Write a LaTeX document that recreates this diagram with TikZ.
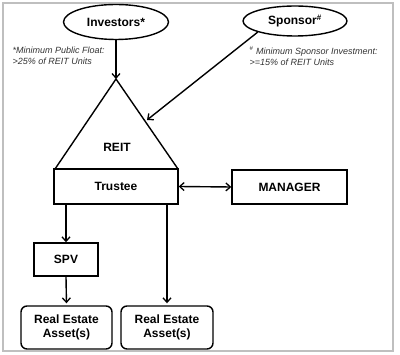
\documentclass[tikz,border=0pt]{standalone}
\usepackage{fontspec}
\setmainfont{Liberation Sans}
\usetikzlibrary{arrows.meta,shapes.geometric}
\begin{document}
\begin{tikzpicture}[x=1pt,y=-1pt,
  line width=1.4pt,
  lbl/.style={font=\bfseries\fontsize{12}{14}\selectfont},
  box/.style={lbl,draw,rectangle,inner sep=0pt},
  rbox/.style={box,rounded corners=6pt,align=center},
  oval/.style={lbl,draw,ellipse,inner sep=0pt},
  note/.style={font=\itshape\fontsize{9}{11}\selectfont,text=black!80,align=left,anchor=north west,inner sep=0pt},
  arr/.style={-{Straight Barb[length=4.5pt,width=8pt,line width=1.3pt]}},
  darr/.style={{Straight Barb[length=4.5pt,width=8pt,line width=1.3pt]}-{Straight Barb[length=4.5pt,width=8pt,line width=1.3pt]}},
]
\useasboundingbox (0,0) rectangle (400,355);
\draw[black!25,line width=1.5pt] (3,3) rectangle (393,351);

\node[oval,minimum width=105pt,minimum height=35pt] (inv) at (116,22) {Investors*};
\node[oval,minimum width=104pt,minimum height=30pt] (spo) at (295,21) {Sponsor\textsuperscript{\#}};

\node[note] (n1) at (12,46) {*Minimum Public Float:\\>25\% of REIT Units};
\node[note] (n2) at (249,46) {\textsuperscript{\#} Minimum Sponsor Investment:\\>=15\% of REIT Units};

\coordinate (apex) at (116,79);
\coordinate (bl) at (55,169);
\coordinate (br) at (178,169);
\coordinate (side) at (147,120);
\draw (bl) -- (apex) -- (br);
\node[lbl] (reit) at (117,147) {REIT};

\node[box,minimum width=124pt,minimum height=35pt] (tru) at (116,186.5) {Trustee};
\node[box,minimum width=115pt,minimum height=34pt] (man) at (289.5,187) {MANAGER};
\node[box,minimum width=64pt,minimum height=33pt] (spv) at (66,259.5) {SPV};
\node[rbox,minimum width=91pt,minimum height=43pt] (rea1) at (66.5,327.5) {Real Estate\\Asset(s)};
\node[rbox,minimum width=92pt,minimum height=43pt] (rea2) at (167,327.5) {Real Estate\\Asset(s)};

\draw[arr] (inv.south) -- (apex);
\draw[arr] (spo.south west) -- (side);
\draw[darr] (tru.east) -- (man.west);
\draw[arr] (tru.south -| spv.north) -- (spv.north);
\draw[arr,shorten >=2pt] (spv.south) -- (rea1.north);
\draw[arr,shorten >=2pt] (tru.south -| rea2.north) -- (rea2.north);
\end{tikzpicture}
\end{document}
